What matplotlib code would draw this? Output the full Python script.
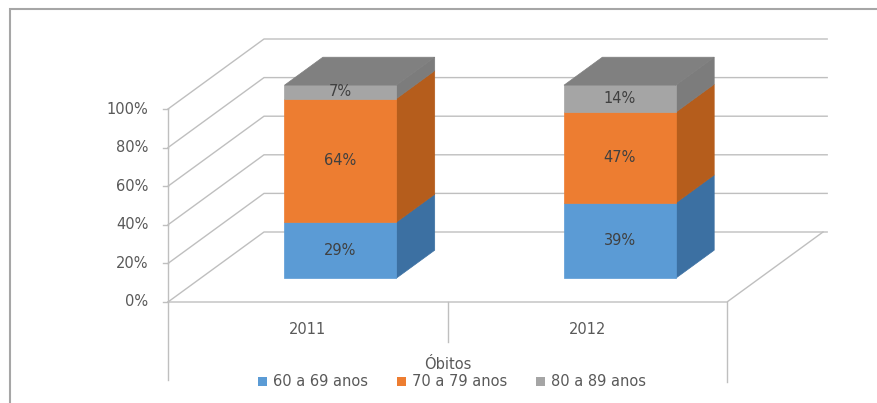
import numpy as np
import matplotlib
matplotlib.use("Agg")
import matplotlib.pyplot as plt
from matplotlib.patches import Polygon, Patch, Rectangle

# data
years = ["2011", "2012"]
groups = ["60 a 69 anos", "70 a 79 anos", "80 a 89 anos"]
v60 = [29, 39]
v70 = [64, 47]
v80 = [7, 14]
yticks = [0, 20, 40, 60, 80, 100]
axis_title = "Óbitos"

front_col = ["#5B9BD5", "#ED7D31", "#A5A5A5"]
side_col = ["#3C70A2", "#B55D1C", "#7C7C7C"]
top_col = "#808080"
grid_col = "#BFBFBF"
txt_col = "#595959"

W, H = 877, 403
fig = plt.figure(figsize=(W / 100, H / 100), dpi=100)

# pixel calibration of the oblique view
PX, PY = 279.5, 1.93          # px per category, px per percent
x0px, y0px = 168, 101         # origin (front-left floor corner), from bottom-left
ax = fig.add_axes([0, 0, 1, 1])
ax.set_xlim(-x0px / PX, (W - x0px) / PX)
ax.set_ylim(-y0px / PY, (H - y0px) / PY)
ax.axis("off")

DX, DY = 96 / PX, 70 / PY     # offset of the back wall
ncat = len(years)


def proj(x, v, d):
    return (x + d * DX, v + d * DY)


# side wall and back wall gridlines
for t in yticks:
    p0, p1 = proj(0, t, 0), proj(0, t, 1)
    p2 = proj(ncat + 0.015, t, 1)
    ax.plot([p0[0], p1[0], p2[0]], [p0[1], p1[1], p2[1]], color=grid_col, lw=1, zorder=1)
    # tick mark and label
    ax.plot([-0.018, 0], [t, t], color=grid_col, lw=1, zorder=1)
    ax.text(-0.07, t, f"{t}%", ha="right", va="center", fontsize=10.5, color=txt_col)

# floor edges
f0, f1, f2 = proj(0, 0, 0), proj(ncat, 0, 0), proj(ncat, 0, 1)
ax.plot([f0[0], f1[0], f2[0]], [f0[1], f1[1], f2[1]], color=grid_col, lw=1, zorder=1)
# vertical axis and category separators
ax.plot([0, 0], [100, -40.4], color=grid_col, lw=1, zorder=1)
ax.plot([1, 1], [0, -20.7], color=grid_col, lw=1, zorder=1)
ax.plot([2, 2], [0, -41.5], color=grid_col, lw=1, zorder=1)

# stacked 3d bars
bw, d0, d1 = 0.4, 0.34, 0.74
series = [v60, v70, v80]
for i, yr in enumerate(years):
    xl, xr = i + 0.5 - bw / 2, i + 0.5 + bw / 2
    base = 0
    for k, vals in enumerate(series):
        top = base + vals[i]
        front = [proj(xl, base, d0), proj(xr, base, d0), proj(xr, top, d0), proj(xl, top, d0)]
        side = [proj(xr, base, d0), proj(xr, base, d1), proj(xr, top, d1), proj(xr, top, d0)]
        ax.add_patch(Polygon(side, closed=True, fc=side_col[k], ec=side_col[k], lw=0.5, zorder=3))
        ax.add_patch(Polygon(front, closed=True, fc=front_col[k], ec=front_col[k], lw=0.5, zorder=4))
        cx, cy = proj(i + 0.5, (base + top) / 2, d0)
        ax.text(cx, cy, f"{vals[i]}%", ha="center", va="center", fontsize=10.5,
                color="#404040", zorder=6)
        base = top
    lid = [proj(xl, base, d0), proj(xr, base, d0), proj(xr, base, d1), proj(xl, base, d1)]
    ax.add_patch(Polygon(lid, closed=True, fc=top_col, ec=top_col, lw=0.5, zorder=4))
    ax.text(i + 0.5, -14, yr, ha="center", va="center", fontsize=10.5, color=txt_col)

ax.text(1.0, -32.6, axis_title, ha="center", va="center", fontsize=10.5, color=txt_col)

handles = [Patch(fc=c, ec="none", label=g) for c, g in zip(front_col, groups)]
fig.legend(handles=handles, loc="center", bbox_to_anchor=(452 / W, 21 / H), ncol=3,
           frameon=False, fontsize=10.5, handlelength=0.6, handleheight=0.6,
           handletextpad=0.4, columnspacing=2.0, labelcolor=txt_col)

# outer chart border
fig.patches.append(Rectangle((10 / W, -0.01), 1.1, (H - 9) / H + 0.01, transform=fig.transFigure,
                             fill=False, ec="#A6A6A6", lw=1.5))

fig.savefig("out.png", dpi=100)
